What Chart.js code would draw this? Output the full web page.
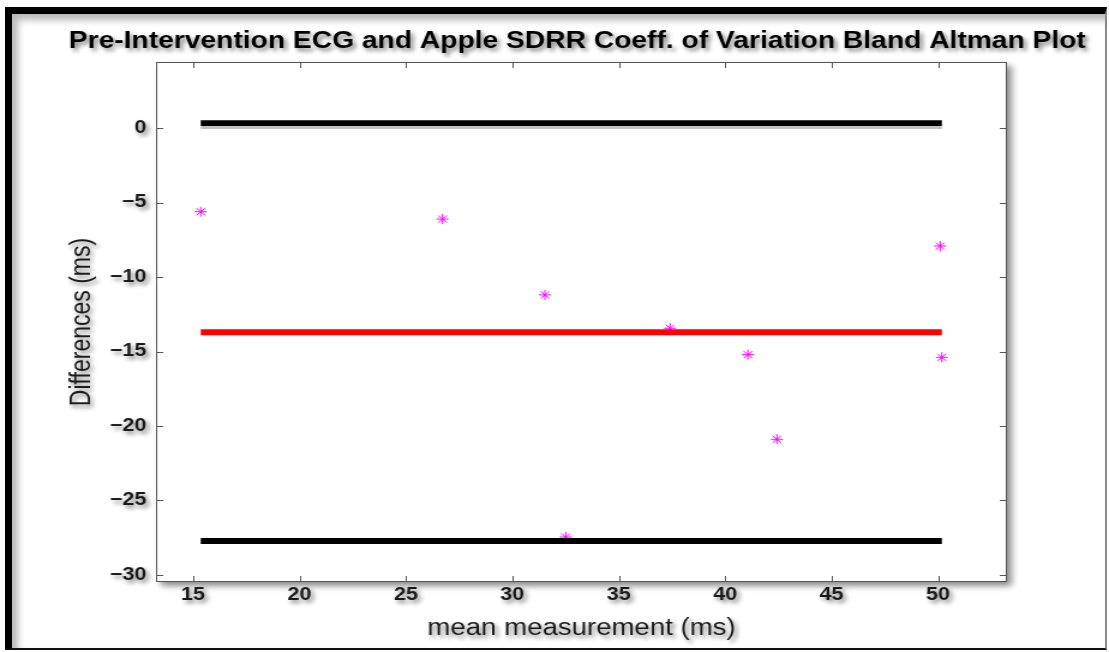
<!DOCTYPE html>
<html>
<head>
<meta charset="utf-8">
<script src="https://cdn.jsdelivr.net/npm/chart.js@4"></script>
<style>
  html, body { margin: 0; padding: 0; background: #fff; }
  body { width: 1109px; height: 652px; position: relative; overflow: hidden; }
  #wrap { position: absolute; left: 0; top: 0; width: 924px; height: 652px;
          transform: scaleX(1.2002); transform-origin: 0 0; }
  #frame { position: absolute; left: 5px; top: 7px; width: 1102px; height: 643px; box-sizing: border-box;
           border-left: 7px solid #000; border-top: 7px solid #000;
           border-right: 2px solid #8a8a8a; border-bottom: 2px solid #111;
           box-shadow: inset 6px 6px 7px rgba(0,0,0,0.28); pointer-events: none; }
</style>
</head>
<body>
<div id="wrap"><canvas id="chart" width="924" height="652"></canvas></div>
<div id="frame"></div>
<script>
// --- Data ---
const meanVals = [15.36, 26.72, 31.53, 37.41, 41.07, 42.43, 50.10, 50.18, 32.51];
const diffVals = [-5.62, -6.11, -11.2, -13.44, -15.21, -20.89, -7.92, -15.39, -27.45];
const meanDiff = -13.71;
const upperLoA = 0.32;
const lowerLoA = -27.72;
const xTicks = [15, 20, 25, 30, 35, 40, 45, 50];
const yTicks = [0, -5, -10, -15, -20, -25, -30];

const xMin = Math.min(...meanVals), xMax = Math.max(...meanVals);
const hLine = y => [{ x: xMin, y: y }, { x: xMax, y: y }];

// white axes box with drop shadow, shadowed text, inward ticks
const matlabLook = {
  id: 'matlabLook',
  beforeDraw(chart) {
    const { ctx, chartArea: a } = chart;
    ctx.save();
    ctx.shadowColor = 'rgba(0,0,0,0.45)';
    ctx.shadowBlur = 6; ctx.shadowOffsetX = 4; ctx.shadowOffsetY = 4;
    ctx.fillStyle = '#fff';
    ctx.fillRect(a.left, a.top, a.right - a.left, a.bottom - a.top);
    ctx.restore();
    ctx.save();
    ctx.shadowColor = 'rgba(0,0,0,0.5)';
    ctx.shadowBlur = 4; ctx.shadowOffsetX = 2.5; ctx.shadowOffsetY = 3;
  },
  beforeDatasetsDraw(chart) {
    chart.ctx.restore();
  },
  afterDatasetsDraw(chart) {
    const { ctx, chartArea: a, scales } = chart;
    ctx.save();
    ctx.strokeStyle = '#555';
    ctx.lineWidth = 1;
    ctx.beginPath();
    scales.x.ticks.forEach(t => {
      const px = Math.round(scales.x.getPixelForValue(t.value)) + 0.5;
      ctx.moveTo(px, a.bottom); ctx.lineTo(px, a.bottom - 6);
      ctx.moveTo(px, a.top); ctx.lineTo(px, a.top + 6);
    });
    scales.y.ticks.forEach(t => {
      const py = Math.round(scales.y.getPixelForValue(t.value)) + 0.5;
      ctx.moveTo(a.left, py); ctx.lineTo(a.left + 6, py);
      ctx.moveTo(a.right, py); ctx.lineTo(a.right - 6, py);
    });
    ctx.stroke();
    ctx.strokeRect(a.left + 0.5, a.top + 0.5, a.right - a.left - 1, a.bottom - a.top - 1);
    ctx.restore();
  }
};

const tickFont = { family: 'Liberation Sans, Arial, sans-serif', size: 18, weight: 'bold' };
const labelFont = { family: 'Liberation Sans, Arial, sans-serif', size: 23 };
const minusSign = v => String(v).replace('-', '\u2212');

new Chart(document.getElementById('chart'), {
  type: 'scatter',
  data: {
    datasets: [
      { data: meanVals.map((m, i) => ({ x: m, y: diffVals[i] })), order: 9,
        pointStyle: 'star', pointRadius: 5, borderWidth: 1, borderColor: '#ff00ff', backgroundColor: '#ff00ff' },
      { data: hLine(0), showLine: true, order: 5, borderColor: '#808080', borderWidth: 1, pointRadius: 0 },
      { data: hLine(upperLoA), showLine: true, order: 1, borderColor: '#000', borderWidth: 6, pointRadius: 0 },
      { data: hLine(meanDiff), showLine: true, order: 2, borderColor: '#ff0000', borderWidth: 6, pointRadius: 0 },
      { data: hLine(lowerLoA), showLine: true, order: 3, borderColor: '#000', borderWidth: 6, pointRadius: 0 }
    ]
  },
  options: {
    responsive: false,
    animation: false,
    layout: { padding: { left: 38, right: 0, top: 0, bottom: 0 } },
    plugins: {
      legend: { display: false },
      tooltip: { enabled: false },
      title: {
        display: true,
        text: 'Pre-Intervention ECG and Apple SDRR Coeff. of Variation Bland Altman Plot',
        color: '#000',
        font: { family: 'Liberation Sans, Arial, sans-serif', size: 23.5, weight: 'bold', lineHeight: 1.2 },
        padding: { top: 27, bottom: 6.8 }
      }
    },
    scales: {
      x: {
        type: 'linear', min: 13.26, max: 53.24,
        afterBuildTicks: s => { s.ticks = xTicks.map(v => ({ value: v })); },
        afterFit: s => { s.height = 70; },
        grid: { display: false, drawTicks: false },
        border: { display: false },
        ticks: { color: '#1a1a1a', font: tickFont, padding: 2, maxRotation: 0, callback: minusSign },
        title: { display: true, text: 'mean measurement (ms)', color: '#1a1a1a', font: labelFont,
                 padding: { top: 0, bottom: 10 } }
      },
      y: {
        type: 'linear', min: -30.47, max: 4.43,
        afterBuildTicks: s => { s.ticks = yTicks.map(v => ({ value: v })); },
        afterFit: s => { s.width = 92; },
        grid: { display: false, drawTicks: false },
        border: { display: false },
        ticks: { color: '#1a1a1a', font: tickFont, padding: 8, callback: minusSign },
        title: { display: true, text: 'Differences (ms)', color: '#1a1a1a', font: labelFont,
                 padding: { top: 16.7, bottom: 0 } }
      },
      // empty right-hand axis that only holds the white margin
      yRight: {
        type: 'linear', position: 'right', min: -30.47, max: 4.43,
        afterFit: s => { s.width = 85; },
        grid: { display: false, drawTicks: false },
        border: { display: false },
        ticks: { display: false }
      }
    }
  },
  plugins: [matlabLook]
});
</script>
</body>
</html>
